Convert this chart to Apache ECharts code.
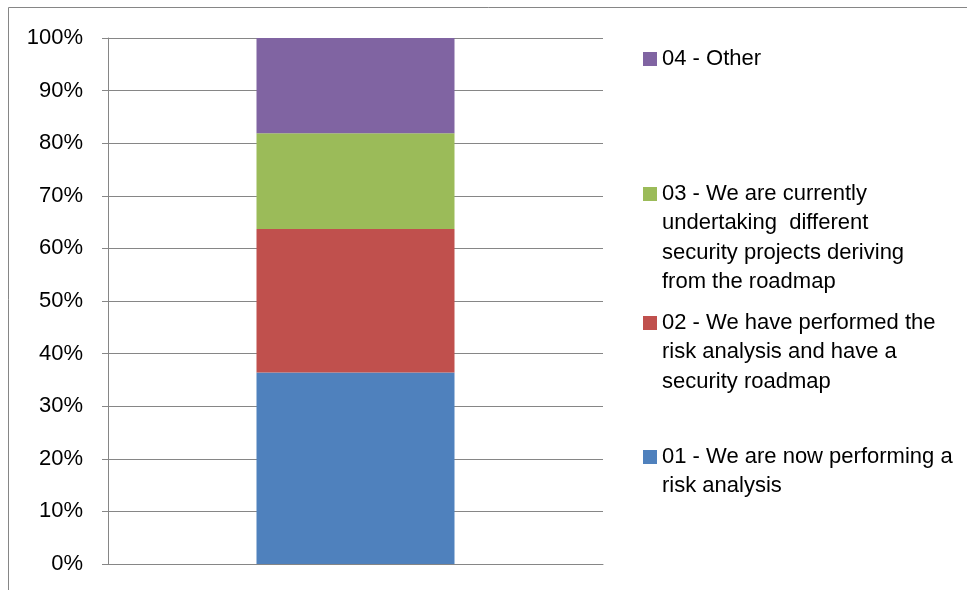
<!DOCTYPE html>
<html>
<head>
<meta charset="utf-8">
<title>Risk analysis and security roadmap status</title>
<script src="https://cdn.jsdelivr.net/npm/echarts@6/dist/echarts.min.js"></script>
<style>
  html, body { margin: 0; padding: 0; background: #ffffff; }
  #chart { width: 967px; height: 590px; }
</style>
</head>
<body>
<div id="chart"></div>
<script>
// Single stacked column, shares in percent
var categories = [''];
var seriesNames = [
  '01 - We are now performing a risk analysis',
  '02 - We have performed the risk analysis and have a security roadmap',
  '03 - We are currently undertaking  different security projects deriving from the roadmap',
  '04 - Other'
];
var seriesValues = [
  [36.4],
  [27.3],
  [18.2],
  [18.1]
];
// Legend text broken into lines
var legendLines = [
  ['01 - We are now performing a', 'risk analysis'],
  ['02 - We have performed the', 'risk analysis and have a', 'security roadmap'],
  ['03 - We are currently', 'undertaking  different', 'security projects deriving', 'from the roadmap'],
  ['04 - Other']
];
var seriesColors = ['#4F81BD', '#C0504D', '#9BBB59', '#8064A2'];
var legendIconCenters = [457, 323, 194, 59];

var FONT = 'Liberation Sans';
var FS = 22;
var LH = 29.3;
var GRAY = '#868686';

var series = seriesNames.map(function (name, i) {
  return {
    name: name,
    type: 'bar',
    stack: 'total',
    barWidth: '40%',
    data: seriesValues[i],
    itemStyle: { color: seriesColors[i] },
    emphasis: { disabled: true }
  };
});

// One legend block per series. The text block is vertically centred on the
// icon, so blank lines are put in front of it to bring the first line level
// with the icon.
var legends = seriesNames.map(function (name, i) {
  var n = legendLines[i].length;
  var lead = new Array(n).join('\n');
  return {
    data: [name],
    left: 643,
    top: legendIconCenters[i] - (2 * n - 1) * LH / 2,
    padding: 0,
    itemWidth: 14,
    itemHeight: 14,
    icon: 'rect',
    selectedMode: false,
    formatter: function () { return lead + legendLines[i].join('\n'); },
    textStyle: {
      fontFamily: FONT,
      fontSize: FS,
      lineHeight: LH,
      color: '#000000'
    }
  };
});

var chart = echarts.init(document.getElementById('chart'), null, { renderer: 'canvas' });
chart.setOption({
  animation: false,
  backgroundColor: '#ffffff',
  textStyle: { fontFamily: FONT },
  graphic: [{
    type: 'rect',
    shape: { x: 8.5, y: 7.5, width: 1200, height: 1200 },
    style: { fill: 'none', stroke: GRAY, lineWidth: 1 },
    silent: true
  }],
  grid: { left: 108, right: 364, top: 38, bottom: 26, containLabel: false },
  legend: legends,
  xAxis: {
    type: 'category',
    data: categories,
    axisLine: { show: true, lineStyle: { color: GRAY, width: 1 } },
    axisTick: { show: false },
    axisLabel: { show: false },
    splitLine: { show: false }
  },
  yAxis: {
    type: 'value',
    min: 0,
    max: 100,
    interval: 10,
    axisLine: { show: true, lineStyle: { color: GRAY, width: 1 } },
    axisTick: { show: true, inside: false, length: 6, lineStyle: { color: GRAY, width: 1 } },
    axisLabel: {
      formatter: '{value}%',
      margin: 25,
      fontFamily: FONT,
      fontSize: FS,
      color: '#000000'
    },
    splitLine: { show: true, lineStyle: { color: GRAY, width: 1 } }
  },
  series: series
});
</script>
</body>
</html>
